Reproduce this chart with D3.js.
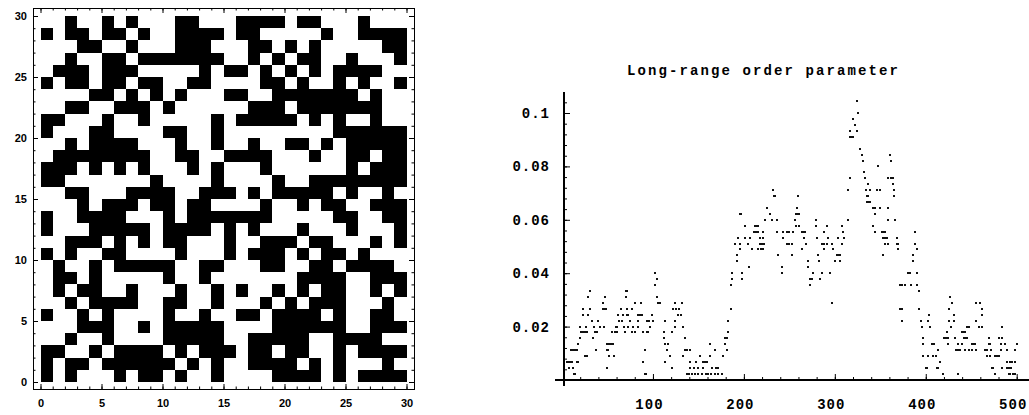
<!DOCTYPE html>
<html>
<head>
<meta charset="utf-8">
<script src="https://cdn.jsdelivr.net/npm/d3@7"></script>
<style>
  body { margin: 0; background: #fff; }
  svg { display: block; }
</style>
</head>
<body>
<div id="chart"></div>
<script>
// 30x30 spin lattice, top row first; "1" = black square
var spinRows = [
  "001001010001100011110110001000",
  "101101101001111011000001001111",
  "000110010001110001101010000011",
  "001001101111111001010110010001",
  "011101110000010110101010111100",
  "101101101100110000110100101001",
  "000011010101000110011111110100",
  "001100111010000001110111111100",
  "110001001000001011111010100100",
  "100011000011001000000000111111",
  "001011110001001001001101011111",
  "011111111001100111100010011011",
  "111010101000101000100000010111",
  "110000000100001000010011111111",
  "001100011110011101011111010010",
  "000101110110110000100101100111",
  "100111100010111111100000110011",
  "100011111011110101000100010001",
  "001110101011000100111011000101",
  "101001100001000101110101101000",
  "010010111110011000110011011110",
  "011010000010010000000111100111",
  "010110010001001010010101100101",
  "001011110011001000101011100010",
  "100101000010010011011110100110",
  "000111001011111000011111100111",
  "001001000011111001111100111100",
  "110010111101011101101100101111",
  "101101111110101001111010100010",
  "101000101101001000011110101111"
];
var latticeTicks = [0, 5, 10, 15, 20, 25, 30];

// [sweep, order parameter]
var orderSeries = [
  [5,.0067],[7,.0067],[8,.0044],[9,.0067],[10,.0111],[11,.0067],[12,.0111],[12,.0044],[13,.0022],[14,.0111],
  [14,.0022],[16,.0111],[16,.0067],[18,.0067],[18,.0133],[20,.0156],[20,.02],[21,.0178],[22,.0178],[23,.0267],
  [23,.0244],[24,.0178],[25,.0089],[26,.0178],[26,.02],[27,.0089],[28,.0178],[28,.0089],[29,.0311],[29,.0244],
  [31,.0333],[31,.0267],[33,.0222],[34,.0156],[35,.02],[36,.0178],[37,.0111],[39,.0178],[40,.0222],[42,.02],
  [45,.0267],[45,.0289],[46,.02],[47,.0311],[47,.0267],[48,.0267],[49,.0133],[49,.0044],[50,.0111],[51,.0111],
  [52,.0133],[52,.0089],[54,.0133],[55,.0178],[56,.0133],[57,.0089],[58,.0178],[59,.02],[60,.0178],[61,.02],
  [62,.0244],[63,.0222],[65,.0267],[66,.0222],[67,.0244],[68,.02],[69,.0178],[70,.0311],[70,.0333],[71,.0267],
  [71,.0244],[72,.0333],[73,.0244],[73,.02],[75,.0222],[77,.0267],[77,.0178],[78,.02],[80,.0289],[80,.0178],
  [84,.0244],[84,.0222],[84,.02],[86,.0244],[87,.0289],[88,.0244],[89,.0178],[89,.0067],[91,.0111],[91,.0022],
  [92,.0022],[93,.0178],[93,.0222],[95,.0178],[96,.0222],[97,.02],[99,.0244],[100,.0222],[102,.04],[102,.0356],
  [104,.0378],[104,.0311],[106,.0289],[108,.0289],[112,.0178],[112,.0156],[113,.0133],[113,.0067],[113,.0222],[115,.0111],
  [117,.0133],[119,.0089],[121,.0178],[121,.0044],[122,.0267],[124,.0289],[124,.02],[124,.0222],[125,.0267],[128,.0244],
  [129,.0267],[131,.0244],[132,.0289],[133,.02],[133,.0089],[135,.0156],[135,.0111],[137,.0022],[138,.0111],[140,.0022],
  [141,.0111],[141,.0067],[141,.0044],[143,.0022],[145,.0044],[146,.0022],[147,.0067],[150,.0044],[150,.0022],[152,.0089],
  [154,.0022],[155,.0044],[155,.0067],[157,.0067],[158,.0022],[159,.0067],[161,.0022],[163,.0133],[163,.0089],[164,.0022],
  [165,.0044],[168,.0111],[168,.0022],[169,.0044],[171,.0044],[172,.0022],[176,.0022],[177,.0089],[179,.0156],[179,.0133],
  [181,.0156],[181,.0111],[183,.0178],[183,.0222],[186,.0267],[186,.0356],[187,.0378],[187,.04],[190,.0511],[192,.0467],
  [192,.0444],[194,.0533],[196,.0622],[197,.0622],[196,.0511],[196,.0489],[198,.04],[198,.0378],[201,.0578],[201,.0533],
  [205,.0511],[206,.0422],[207,.0533],[209,.0489],[211,.0556],[212,.0578],[213,.0556],[214,.0578],[215,.0556],[216,.0578],
  [216,.0489],[218,.0533],[218,.0511],[219,.0489],[220,.0511],[221,.0489],[221,.0533],[221,.0556],[222,.0511],[223,.06],
  [225,.0644],[229,.0622],[231,.06],[232,.0711],[233,.0689],[234,.0689],[236,.06],[236,.0556],[238,.0467],[242,.0422],
  [242,.04],[243,.0556],[243,.0533],[247,.0556],[247,.0511],[250,.0556],[250,.0511],[253,.0511],[253,.0467],[254,.0556],
  [256,.06],[257,.0622],[257,.0578],[258,.0644],[259,.0622],[259,.0689],[261,.0622],[261,.0578],[264,.0556],[264,.0489],
  [266,.0556],[266,.0533],[267,.0556],[268,.0511],[270,.0444],[271,.0422],[273,.0378],[273,.0356],[275,.0378],[276,.04],
  [279,.06],[279,.0578],[280,.0533],[282,.0467],[283,.0444],[284,.0378],[286,.04],[286,.0511],[288,.0511],[288,.0556],
  [288,.0489],[291,.0511],[291,.0578],[293,.0533],[295,.04],[297,.0289],[297,.0511],[298,.0489],[300,.0444],[302,.0467],
  [304,.0467],[304,.0533],[306,.0467],[306,.0444],[308,.0578],[308,.0511],[309,.0556],[310,.0533],[314,.06],[315,.0711],
  [317,.0756],[317,.0911],[317,.0933],[319,.0911],[320,.0911],[320,.0978],[322,.0956],[324,.1044],[324,.0933],[326,.1],
  [328,.0867],[330,.0844],[331,.0822],[332,.0778],[333,.0756],[334,.0711],[335,.0689],[335,.0667],[337,.0733],[337,.0689],
  [337,.0667],[339,.0711],[339,.0667],[342,.0644],[342,.0578],[344,.0622],[344,.0644],[344,.0556],[346,.0711],[348,.08],
  [350,.0711],[350,.0644],[352,.0556],[353,.0533],[353,.0467],[354,.0556],[355,.0556],[355,.0533],[355,.0511],[357,.0533],
  [358,.0511],[359,.0644],[359,.0756],[359,.06],[361,.0844],[362,.0822],[362,.0756],[364,.0756],[364,.0733],[365,.0711],
  [365,.0689],[366,.06],[368,.0533],[368,.0511],[370,.0511],[370,.0489],[372,.0356],[372,.0267],[374,.0356],[374,.0267],
  [374,.0222],[377,.0356],[381,.04],[383,.04],[384,.0356],[386,.0467],[386,.0444],[388,.0556],[388,.0511],[390,.0489],
  [390,.04],[390,.0356],[393,.0333],[393,.0267],[395,.0222],[396,.02],[397,.0156],[397,.0133],[397,.0089],[400,.0044],
  [401,.0044],[402,.0089],[403,.0222],[404,.0244],[405,.02],[407,.0133],[408,.0089],[409,.0133],[411,.0089],[412,.0044],
  [413,.0044],[414,.0111],[416,.0067],[419,.0022],[420,.0156],[422,.0156],[423,.0178],[424,.0156],[424,.0133],[426,.0222],
  [426,.0267],[427,.0311],[428,.02],[429,.0289],[431,.0244],[431,.0222],[432,.0156],[433,.0111],[435,.0133],[435,.0022],
  [436,.0111],[436,.0022],[438,.0111],[440,.0178],[440,.0133],[442,.0178],[442,.0156],[443,.0178],[443,.0111],[444,.0156],
  [445,.0156],[445,.02],[447,.02],[447,.0111],[451,.0133],[451,.0111],[453,.0133],[454,.0133],[455,.0111],[455,.0222],
  [455,.0289],[458,.02],[460,.0289],[462,.0267],[462,.0244],[462,.02],[465,.0111],[467,.0111],[467,.0089],[469,.0156],
  [469,.0133],[471,.0133],[471,.0089],[472,.0111],[473,.0044],[474,.0044],[476,.0089],[476,.0022],[478,.0089],[480,.0156],
  [481,.0089],[483,.0133],[483,.0111],[484,.0156],[484,.02],[484,.0044],[487,.0133],[489,.0111],[489,.0044],[489,.0067],
  [491,.0044],[491,.0022],[493,.0067],[493,.0022],[494,.0044],[495,.0067],[496,.0022],[498,.0067],[498,.0022],[498,.0111],
  [500,.0133]
];
var sweepTicks = [100, 200, 300, 400, 500];
var orderTicks = [0.02, 0.04, 0.06, 0.08, 0.1];
var orderTickLabels = ["0.02", "0.04", "0.06", "0.08", "0.1"];
var plotTitle = "Long-range order parameter";

var svg = d3.select("#chart").append("svg")
    .attr("width", 1029)
    .attr("height", 415);

function bareAxis(g) {
    g.select(".domain").remove();
    g.selectAll("line").attr("stroke", "#000");
    g.selectAll("text").attr("fill", "#000");
}

// ---------- left panel: lattice ----------
var gx = d3.scaleLinear().domain([0, 30]).range([40.5, 406.5]);
var gy = d3.scaleLinear().domain([0, 30]).range([382, 16]);

var cells = [];
spinRows.forEach(function(row, r) {
    row.split("").forEach(function(s, c) {
        if (s === "1") cells.push({ col: c, row: spinRows.length - 1 - r });
    });
});

svg.append("g")
    .attr("shape-rendering", "crispEdges")
    .selectAll("rect")
    .data(cells)
    .enter()
    .append("rect")
    .attr("x", d => gx(d.col))
    .attr("y", d => gy(d.row + 1))
    .attr("width", gx(1) - gx(0))
    .attr("height", gy(0) - gy(1))
    .attr("fill", "#000");

svg.append("rect")
    .attr("x", 33.5).attr("y", 8.5)
    .attr("width", 381).attr("height", 381)
    .attr("fill", "none").attr("stroke", "#000");

var unitTicks = d3.range(0, 31);
var latticeFont = { family: "'Liberation Sans', Arial, sans-serif", size: 11 };

// frame ticks point inward on all four sides
var bottomG = svg.append("g").attr("transform", "translate(0,389)");
bottomG.append("g").call(d3.axisBottom(gx).tickValues(unitTicks).tickSize(-2.5).tickFormat("")).call(bareAxis);
bottomG.append("g").call(d3.axisBottom(gx).tickValues(latticeTicks).tickSize(-5).tickPadding(10)).call(bareAxis)
    .attr("font-family", latticeFont.family).attr("font-size", latticeFont.size).attr("font-weight", "bold");

var topG = svg.append("g").attr("transform", "translate(0,8)");
topG.append("g").call(d3.axisTop(gx).tickValues(unitTicks).tickSize(-2.5).tickFormat("")).call(bareAxis);
topG.append("g").call(d3.axisTop(gx).tickValues(latticeTicks).tickSize(-5).tickFormat("")).call(bareAxis);

var leftG = svg.append("g").attr("transform", "translate(33,0)");
leftG.append("g").call(d3.axisLeft(gy).tickValues(unitTicks).tickSize(-2.5).tickFormat("")).call(bareAxis);
leftG.append("g").call(d3.axisLeft(gy).tickValues(latticeTicks).tickSize(-5).tickPadding(6)).call(bareAxis)
    .attr("font-family", latticeFont.family).attr("font-size", latticeFont.size).attr("font-weight", "bold");

var rightG = svg.append("g").attr("transform", "translate(414,0)");
rightG.append("g").call(d3.axisRight(gy).tickValues(unitTicks).tickSize(-2.5).tickFormat("")).call(bareAxis);
rightG.append("g").call(d3.axisRight(gy).tickValues(latticeTicks).tickSize(-5).tickFormat("")).call(bareAxis);

// ---------- right panel: order parameter ----------
var px = d3.scaleLinear().domain([0, 500]).range([562, 1016.7]);
var py = d3.scaleLinear().domain([0, 0.1]).range([380, 113]);
var monoFont = "'Liberation Mono', 'DejaVu Sans Mono', monospace";

svg.append("text")
    .attr("x", 762.5)
    .attr("y", 74.5)
    .attr("text-anchor", "middle")
    .attr("textLength", 271)
    .attr("lengthAdjust", "spacing")
    .attr("font-family", monoFont)
    .attr("font-size", 14)
    .attr("font-weight", "bold")
    .text(plotTitle);

// axis lines
svg.append("line")
    .attr("x1", 555).attr("x2", 1029)
    .attr("y1", py(0)).attr("y2", py(0))
    .attr("stroke", "#000").attr("stroke-width", 2);
svg.append("line")
    .attr("x1", 564).attr("x2", 564)
    .attr("y1", 92).attr("y2", 386)
    .attr("stroke", "#000").attr("stroke-width", 2);

var xAxisG = svg.append("g").attr("transform", `translate(0,${py(0)})`);
xAxisG.append("g")
    .call(d3.axisBottom(px).tickValues(d3.range(20, 501, 20)).tickSize(-3).tickFormat(""))
    .call(bareAxis);
xAxisG.append("g")
    .call(d3.axisBottom(px).tickValues(sweepTicks).tickSize(-6).tickPadding(19))
    .call(bareAxis)
    .attr("font-family", monoFont).attr("font-size", 14).attr("font-weight", "bold")
    .selectAll("text").attr("dx", -4).style("letter-spacing", "1px");

var yAxisG = svg.append("g").attr("transform", "translate(564,0)");
yAxisG.append("g")
    .call(d3.axisLeft(py).tickValues(d3.range(0.004, 0.105, 0.004)).tickSize(-3).tickFormat(""))
    .call(bareAxis);
yAxisG.append("g")
    .call(d3.axisLeft(py).tickValues(orderTicks).tickSize(-6).tickPadding(14)
        .tickFormat((d, i) => orderTickLabels[i]))
    .call(bareAxis)
    .attr("font-family", monoFont).attr("font-size", 14).attr("font-weight", "bold")
    .selectAll("text").style("letter-spacing", "1px");

// points
svg.append("g")
    .attr("shape-rendering", "crispEdges")
    .selectAll("rect")
    .data(orderSeries)
    .enter()
    .append("rect")
    .attr("x", d => Math.round(px(d[0])) - 1)
    .attr("y", d => Math.round(py(d[1])) - 1)
    .attr("width", 2)
    .attr("height", 2)
    .attr("fill", "#111");
</script>
</body>
</html>
